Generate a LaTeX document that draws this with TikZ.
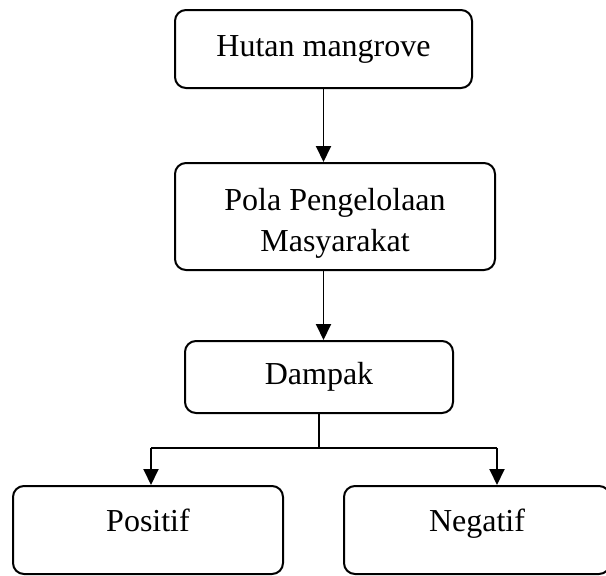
\documentclass[tikz,border=0pt]{standalone}
\usepackage{fontspec}
\setmainfont{Liberation Serif}
\usetikzlibrary{arrows.meta,calc}
\begin{document}
\begin{tikzpicture}[x=1pt,y=-1pt,
  box/.style={draw=black, line width=2pt, rounded corners=11pt, inner sep=0pt,
    font=\fontsize{32}{41}\selectfont, align=center},
  conn/.style={draw=black, line width=1.9pt},
  arr/.style={conn, -{Triangle[length=16pt,width=15pt]}}]
\useasboundingbox (0,0) rectangle (606,576);
\clip (0,0) rectangle (606,576);
\node[box, minimum width=297pt, minimum height=78pt] (h) at (323.5,49) {Hutan mangrove};
\node[box, minimum width=320pt, minimum height=107pt, text height=40pt, text depth=14pt] (p) at (335,216.5) {\begin{tabular}{@{}c@{}}Pola Pengelolaan\\Masyarakat\end{tabular}};
\node[box, minimum width=268pt, minimum height=72pt] (d) at (319,377) {Dampak};
\node[box, minimum width=270pt, minimum height=88pt, text height=22pt, text depth=20pt] (pos) at (148,530) {Positif};
\node[box, minimum width=266pt, minimum height=88pt, text height=22pt, text depth=20pt] (neg) at (477,530) {Negatif};
\coordinate (jl) at (151,448);
\coordinate (jr) at (497,448);
\draw[arr] (h.south) -- (h.south |- p.north);
\draw[arr] (p.south -| h.south) -- (d.north -| h.south);
\draw[conn] (d.south) -- (d.south |- jl);
\draw[conn] (jl) -- (jr);
\draw[arr] (jl) -- (jl |- pos.north);
\draw[arr] (jr) -- (jr |- neg.north);
\end{tikzpicture}
\end{document}
